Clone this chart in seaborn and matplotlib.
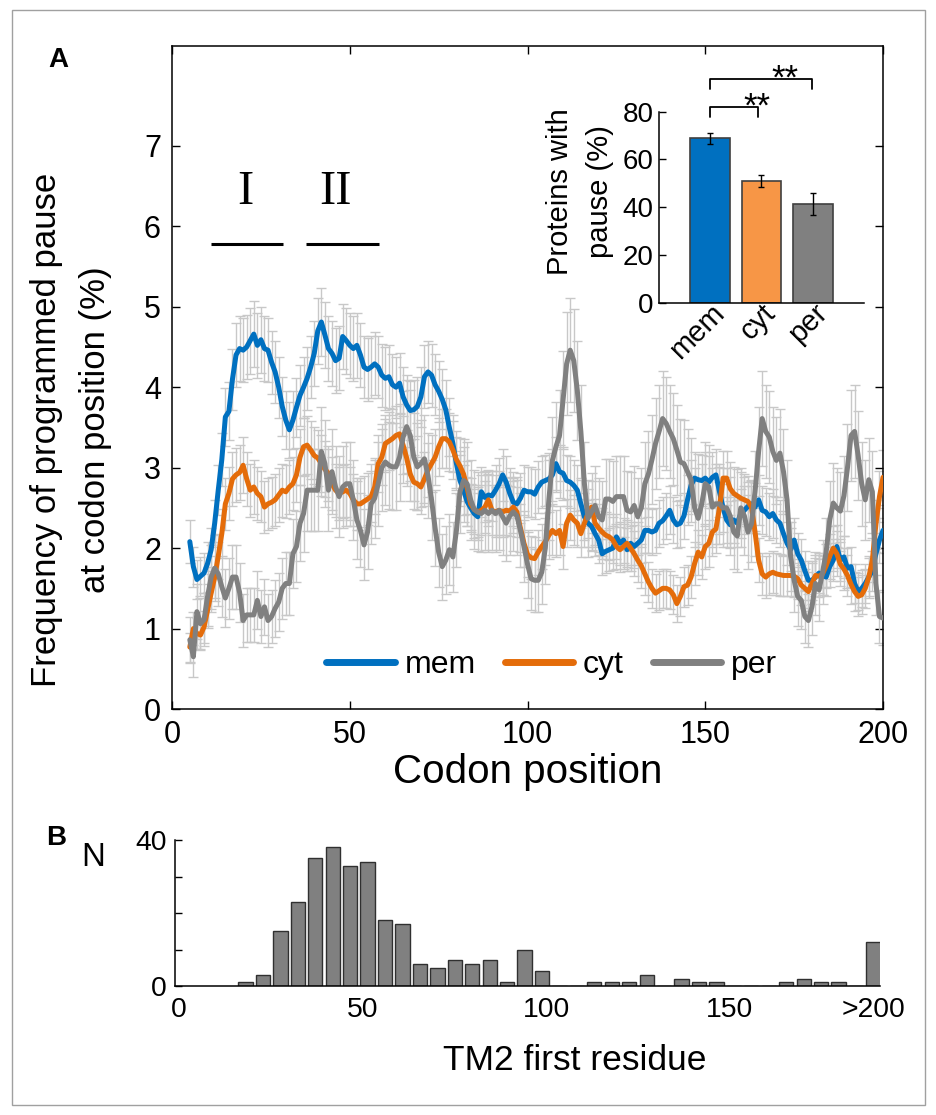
import numpy as np
import pandas as pd
import matplotlib
matplotlib.use("Agg")
import matplotlib.pyplot as plt
from matplotlib import font_manager
import seaborn as sns
from matplotlib.patches import Rectangle

# ---------------- data ----------------
codon = list(range(5, 201))

mem = [2.08, 1.77, 1.61, 1.65, 1.69, 1.81, 1.98, 2.31, 2.72, 3.10,
       3.63, 3.70, 4.10, 4.40, 4.48, 4.46, 4.50, 4.58, 4.66, 4.52,
       4.59, 4.48, 4.46, 4.31, 4.19, 4.00, 3.76, 3.59, 3.47, 3.59,
       3.75, 3.90, 4.00, 4.11, 4.25, 4.42, 4.70, 4.81, 4.65, 4.48,
       4.42, 4.33, 4.36, 4.63, 4.58, 4.52, 4.48, 4.52, 4.40, 4.25,
       4.22, 4.25, 4.29, 4.25, 4.15, 4.11, 4.13, 4.03, 4.00, 4.05,
       3.88, 3.78, 3.71, 3.72, 3.76, 3.88, 4.13, 4.19, 4.15, 4.03,
       3.95, 3.85, 3.72, 3.50, 3.30, 3.05, 2.84, 2.72, 2.58, 2.50,
       2.43, 2.39, 2.70, 2.63, 2.66, 2.65, 2.72, 2.80, 2.91, 2.82,
       2.68, 2.57, 2.55, 2.62, 2.72, 2.70, 2.70, 2.67, 2.76, 2.82,
       2.84, 2.86, 2.91, 3.05, 2.95, 2.93, 2.84, 2.82, 2.78, 2.72,
       2.55, 2.39, 2.31, 2.27, 2.18, 2.10, 1.93, 1.96, 1.98, 2.00,
       2.14, 2.06, 2.10, 1.98, 2.06, 2.02, 2.06, 2.10, 2.22, 2.22,
       2.20, 2.22, 2.31, 2.34, 2.40, 2.47, 2.35, 2.29, 2.31, 2.40,
       2.60, 2.78, 2.87, 2.85, 2.84, 2.87, 2.82, 2.88, 2.91, 2.70,
       2.50, 2.35, 2.29, 2.35, 2.31, 2.43, 2.47, 2.52, 2.55, 2.51,
       2.60, 2.47, 2.45, 2.39, 2.43, 2.35, 2.31, 2.18, 2.06, 1.98,
       2.10, 1.93, 1.85, 1.72, 1.60, 1.60, 1.64, 1.69, 1.66, 1.64,
       1.77, 1.85, 2.02, 1.85, 1.89, 1.75, 1.77, 1.56, 1.46, 1.50,
       1.56, 1.64, 1.72, 1.93, 2.10, 2.22]

mem_err = [0.27, 0.25, 0.24, 0.24, 0.25, 0.26, 0.27, 0.29, 0.31, 0.33,
           0.36, 0.36, 0.38, 0.40, 0.40, 0.40, 0.40, 0.41, 0.41, 0.40,
           0.41, 0.40, 0.40, 0.39, 0.39, 0.38, 0.37, 0.36, 0.35, 0.36,
           0.37, 0.38, 0.38, 0.39, 0.39, 0.40, 0.41, 0.42, 0.41, 0.40,
           0.40, 0.40, 0.40, 0.41, 0.41, 0.40, 0.40, 0.40, 0.40, 0.39,
           0.39, 0.39, 0.39, 0.39, 0.39, 0.39, 0.39, 0.38, 0.38, 0.38,
           0.37, 0.37, 0.37, 0.37, 0.37, 0.37, 0.39, 0.39, 0.39, 0.38,
           0.38, 0.37, 0.37, 0.36, 0.35, 0.33, 0.32, 0.31, 0.31, 0.30,
           0.30, 0.29, 0.31, 0.31, 0.31, 0.31, 0.31, 0.32, 0.32, 0.32,
           0.31, 0.30, 0.30, 0.31, 0.31, 0.31, 0.31, 0.31, 0.32, 0.32,
           0.32, 0.32, 0.32, 0.33, 0.33, 0.33, 0.32, 0.32, 0.32, 0.31,
           0.30, 0.29, 0.29, 0.29, 0.28, 0.28, 0.26, 0.27, 0.27, 0.27,
           0.28, 0.27, 0.28, 0.27, 0.27, 0.27, 0.27, 0.28, 0.28, 0.28,
           0.28, 0.28, 0.29, 0.29, 0.29, 0.30, 0.29, 0.29, 0.29, 0.29,
           0.31, 0.32, 0.32, 0.32, 0.32, 0.32, 0.32, 0.32, 0.32, 0.31,
           0.30, 0.29, 0.29, 0.29, 0.29, 0.30, 0.30, 0.30, 0.30, 0.30,
           0.31, 0.30, 0.30, 0.29, 0.30, 0.29, 0.29, 0.28, 0.27, 0.27,
           0.28, 0.26, 0.26, 0.25, 0.24, 0.24, 0.24, 0.25, 0.24, 0.24,
           0.25, 0.26, 0.27, 0.26, 0.26, 0.25, 0.25, 0.24, 0.23, 0.23,
           0.24, 0.24, 0.25, 0.26, 0.28, 0.28]

cyt = [0.77, 1.00, 0.94, 0.92, 1.02, 1.23, 1.44, 1.64, 1.90, 2.18,
       2.55, 2.68, 2.86, 2.91, 2.94, 3.03, 2.86, 2.72, 2.76, 2.68,
       2.64, 2.51, 2.55, 2.57, 2.60, 2.66, 2.72, 2.70, 2.76, 2.80,
       2.91, 3.13, 3.26, 3.28, 3.22, 3.15, 3.12, 3.05, 2.98, 2.93,
       2.80, 2.72, 2.68, 2.70, 2.72, 2.68, 2.60, 2.55, 2.55, 2.58,
       2.61, 2.64, 2.76, 3.05, 3.13, 3.30, 3.33, 3.36, 3.40, 3.42,
       3.28, 3.12, 2.92, 2.82, 2.80, 2.76, 2.86, 2.97, 3.05, 3.13,
       3.26, 3.36, 3.36, 3.32, 3.22, 3.10, 3.02, 2.92, 2.75, 2.55,
       2.48, 2.45, 2.47, 2.51, 2.60, 2.47, 2.45, 2.47, 2.45, 2.47,
       2.46, 2.51, 2.45, 2.25, 2.06, 1.92, 1.88, 1.87, 1.95, 2.02,
       2.08, 2.16, 2.22, 2.18, 2.22, 2.02, 2.31, 2.41, 2.35, 2.31,
       2.18, 2.31, 2.43, 2.51, 2.31, 2.25, 2.20, 2.16, 2.14, 2.10,
       2.02, 1.98, 2.02, 2.06, 2.00, 1.93, 1.85, 1.78, 1.68, 1.58,
       1.50, 1.44, 1.47, 1.50, 1.50, 1.48, 1.42, 1.31, 1.40, 1.52,
       1.54, 1.64, 1.81, 1.95, 1.89, 2.02, 2.06, 2.20, 2.24, 2.50,
       2.87, 2.87, 2.74, 2.68, 2.65, 2.62, 2.60, 2.58, 2.51, 2.20,
       1.85, 1.68, 1.64, 1.68, 1.70, 1.68, 1.67, 1.66, 1.66, 1.66,
       1.65, 1.62, 1.54, 1.50, 1.46, 1.56, 1.66, 1.65, 1.68, 1.78,
       1.90, 2.00, 1.93, 1.80, 1.74, 1.66, 1.55, 1.46, 1.40, 1.42,
       1.50, 1.64, 1.85, 2.30, 2.64, 2.88]

cyt_err = [0.18, 0.20, 0.19, 0.19, 0.20, 0.22, 0.24, 0.26, 0.28, 0.30,
           0.32, 0.33, 0.34, 0.34, 0.34, 0.35, 0.34, 0.33, 0.33, 0.33,
           0.32, 0.32, 0.32, 0.32, 0.32, 0.33, 0.33, 0.33, 0.33, 0.33,
           0.34, 0.35, 0.36, 0.36, 0.36, 0.35, 0.35, 0.35, 0.35, 0.34,
           0.33, 0.33, 0.33, 0.33, 0.33, 0.33, 0.32, 0.32, 0.32, 0.32,
           0.32, 0.32, 0.33, 0.35, 0.35, 0.36, 0.36, 0.37, 0.37, 0.37,
           0.36, 0.35, 0.34, 0.34, 0.33, 0.33, 0.34, 0.34, 0.35, 0.35,
           0.36, 0.37, 0.37, 0.36, 0.36, 0.35, 0.35, 0.34, 0.33, 0.32,
           0.31, 0.31, 0.31, 0.32, 0.32, 0.31, 0.31, 0.31, 0.31, 0.31,
           0.31, 0.32, 0.31, 0.30, 0.29, 0.28, 0.27, 0.27, 0.28, 0.28,
           0.29, 0.29, 0.30, 0.29, 0.30, 0.28, 0.30, 0.31, 0.31, 0.30,
           0.29, 0.30, 0.31, 0.32, 0.30, 0.30, 0.30, 0.29, 0.29, 0.29,
           0.28, 0.28, 0.28, 0.29, 0.28, 0.28, 0.27, 0.27, 0.26, 0.25,
           0.24, 0.24, 0.24, 0.24, 0.24, 0.24, 0.24, 0.23, 0.24, 0.25,
           0.25, 0.26, 0.27, 0.28, 0.27, 0.28, 0.29, 0.30, 0.30, 0.32,
           0.34, 0.34, 0.33, 0.33, 0.33, 0.32, 0.32, 0.32, 0.32, 0.30,
           0.27, 0.26, 0.26, 0.26, 0.26, 0.26, 0.26, 0.26, 0.26, 0.26,
           0.26, 0.25, 0.25, 0.24, 0.24, 0.25, 0.26, 0.26, 0.26, 0.27,
           0.28, 0.28, 0.28, 0.27, 0.26, 0.26, 0.25, 0.24, 0.24, 0.24,
           0.24, 0.26, 0.27, 0.30, 0.32, 0.34]

per = [0.86, 0.65, 1.21, 1.06, 1.11, 1.40, 1.64, 1.75, 1.68, 1.52,
       1.38, 1.50, 1.64, 1.64, 1.45, 1.10, 1.17, 1.17, 1.17, 1.35,
       1.15, 1.27, 1.10, 1.15, 1.25, 1.33, 1.50, 1.56, 1.56, 1.93,
       2.02, 2.31, 2.43, 2.72, 2.72, 2.72, 2.72, 3.20, 3.05, 2.72,
       2.95, 2.76, 2.64, 2.76, 2.80, 2.80, 2.60, 2.35, 2.22, 2.04,
       2.20, 2.55, 2.62, 2.80, 3.00, 3.07, 3.03, 3.01, 3.01, 3.13,
       3.38, 3.51, 3.40, 3.13, 3.01, 3.05, 3.11, 2.90, 2.60, 2.25,
       1.95, 1.77, 1.85, 1.98, 1.89, 2.22, 2.70, 2.84, 2.80, 2.60,
       2.48, 2.45, 2.43, 2.47, 2.43, 2.47, 2.43, 2.47, 2.39, 2.31,
       2.40, 2.45, 2.40, 2.22, 2.02, 1.80, 1.62, 1.60, 1.60, 1.70,
       2.00, 2.60, 3.09, 3.26, 3.40, 3.84, 4.29, 4.46, 4.33, 3.96,
       3.45, 2.80, 2.37, 2.45, 2.53, 2.39, 2.35, 2.61, 2.61, 2.58,
       2.64, 2.64, 2.64, 2.47, 2.45, 2.53, 2.39, 2.50, 2.80, 2.92,
       3.10, 3.30, 3.45, 3.61, 3.55, 3.45, 3.36, 3.22, 3.07, 3.05,
       2.95, 2.85, 2.50, 2.37, 2.55, 2.80, 2.76, 2.51, 2.55, 2.55,
       2.50, 2.50, 2.40, 2.20, 2.15, 2.50, 2.40, 2.20, 2.30, 2.70,
       3.20, 3.61, 3.45, 3.38, 3.20, 3.09, 3.18, 2.95, 2.60, 1.90,
       1.60, 1.40, 1.35, 1.15, 1.10, 1.27, 1.56, 1.48, 1.70, 1.95,
       2.35, 2.56, 2.50, 2.46, 2.65, 3.00, 3.40, 3.45, 3.15, 2.80,
       2.60, 2.85, 2.70, 1.56, 1.15, 1.13]

per_err = [0.29, 0.25, 0.34, 0.32, 0.33, 0.37, 0.40, 0.41, 0.40, 0.38,
           0.36, 0.38, 0.40, 0.40, 0.37, 0.33, 0.34, 0.34, 0.34, 0.36,
           0.33, 0.35, 0.33, 0.33, 0.35, 0.36, 0.38, 0.39, 0.39, 0.43,
           0.44, 0.47, 0.48, 0.51, 0.51, 0.51, 0.51, 0.55, 0.54, 0.51,
           0.53, 0.51, 0.50, 0.51, 0.52, 0.52, 0.50, 0.48, 0.46, 0.44,
           0.46, 0.50, 0.50, 0.52, 0.54, 0.54, 0.54, 0.54, 0.54, 0.55,
           0.57, 0.58, 0.57, 0.55, 0.54, 0.54, 0.55, 0.53, 0.50, 0.47,
           0.43, 0.41, 0.42, 0.44, 0.43, 0.46, 0.51, 0.52, 0.52, 0.50,
           0.49, 0.49, 0.48, 0.49, 0.48, 0.49, 0.48, 0.49, 0.48, 0.47,
           0.48, 0.49, 0.48, 0.46, 0.44, 0.42, 0.39, 0.39, 0.39, 0.40,
           0.44, 0.50, 0.54, 0.56, 0.57, 0.61, 0.64, 0.65, 0.64, 0.62,
           0.58, 0.52, 0.48, 0.48, 0.49, 0.48, 0.48, 0.50, 0.50, 0.50,
           0.50, 0.50, 0.50, 0.49, 0.49, 0.49, 0.48, 0.49, 0.52, 0.53,
           0.55, 0.56, 0.58, 0.59, 0.58, 0.58, 0.57, 0.56, 0.54, 0.54,
           0.53, 0.52, 0.49, 0.48, 0.50, 0.52, 0.52, 0.49, 0.50, 0.50,
           0.49, 0.49, 0.48, 0.46, 0.45, 0.49, 0.48, 0.46, 0.47, 0.51,
           0.55, 0.59, 0.58, 0.57, 0.55, 0.54, 0.55, 0.53, 0.50, 0.43,
           0.39, 0.37, 0.36, 0.33, 0.33, 0.35, 0.39, 0.38, 0.40, 0.43,
           0.48, 0.50, 0.49, 0.49, 0.50, 0.54, 0.57, 0.58, 0.55, 0.52,
           0.50, 0.52, 0.51, 0.39, 0.33, 0.33]

groups = ["mem", "cyt", "per"]
pause_pct = [68.8, 50.9, 41.4]
pause_err = [2.4, 2.4, 4.6]

tm2_counts = [1, 3, 15, 23, 35, 38, 33, 34, 18, 17,
              6, 5, 7, 6, 7, 1, 10, 4, 0, 0,
              1, 1, 1, 3, 0, 2, 1, 1, 0, 0,
              0, 1, 2, 1, 1, 0, 12]
tm2_tick_values = [0, 50, 100, 150]
tm2_tick_labels = ["0", "50", "100", "150", ">200"]

# ---------------- style ----------------
sns.set_style("white")
plt.rcParams['font.family'] = ['Liberation Sans', 'DejaVu Sans']
plt.rcParams['axes.edgecolor'] = 'black'
plt.rcParams['axes.linewidth'] = 1.1
for key in ['text.color', 'axes.labelcolor', 'xtick.color', 'ytick.color']:
    plt.rcParams[key] = 'black'

available = {f.name for f in font_manager.fontManager.ttflist}
if 'Liberation Sans Narrow' in available:
    narrow_family = ['Liberation Sans Narrow', 'Liberation Sans']
    narrow_scale = 1.0
else:
    narrow_family = ['Liberation Sans', 'DejaVu Sans']
    narrow_scale = 0.85

line_colors = {"mem": "#0070C0", "cyt": "#E46C0A", "per": "#808080"}
bar_colors = {"mem": "#0070C0", "cyt": "#F79646", "per": "#808080"}

fig = plt.figure(figsize=(9.37, 11.15), dpi=100)

# ---------------- panel A ----------------
ax = fig.add_axes([0.1836, 0.3641, 0.7588, 0.5946])
series = {"mem": (mem, mem_err), "cyt": (cyt, cyt_err), "per": (per, per_err)}
for name, (vals, errs) in series.items():
    ax.errorbar(codon, vals, yerr=errs, fmt='none', ecolor='#c8c8c8',
                elinewidth=1.0, capsize=3.5, capthick=1.0, zorder=1)

df = pd.concat([pd.DataFrame({"codon": codon, "freq": v, "set": n})
                for n, (v, e) in series.items()], ignore_index=True)
sns.lineplot(data=df, x="codon", y="freq", hue="set", hue_order=groups,
             palette=line_colors, linewidth=3.6, errorbar=None, ax=ax,
             zorder=3, legend=True)
handles, labels = ax.get_legend_handles_labels()
ax.legend(handles, labels, loc='lower center', bbox_to_anchor=(0.534, 0.0),
          ncol=3, frameon=False, fontsize=23, handlelength=2.15,
          columnspacing=0.9, handletextpad=0.3)
for lh in ax.get_legend().get_lines():
    lh.set_linewidth(5)

ax.set_xlim(0, 200)
ax.set_ylim(0, 8.24)
ax.set_xticks([0, 50, 100, 150, 200])
ax.set_yticks(range(0, 8))
ax.xaxis.set_ticks_position('both')
ax.yaxis.set_ticks_position('both')
ax.tick_params(direction='in', length=6, width=1, labelsize=22,
               colors='black', pad=8)
ax.set_xlabel("Codon position", fontsize=29, labelpad=2)
ax.set_ylabel("")
fig.text(71 / 937, 1 - 430 / 1115, "Frequency of programmed pause\nat codon position (%)",
         rotation=90, ha='center', va='center', fontsize=25,
         multialignment='center', linespacing=1.65)

# region annotations
ax.plot([11, 31.2], [5.78, 5.78], color='black', lw=2.2, solid_capstyle='butt')
ax.plot([37.7, 58.2], [5.78, 5.78], color='black', lw=2.2, solid_capstyle='butt')
ax.text(20.5, 6.42, "I", family=['Liberation Serif', 'DejaVu Serif'],
        fontsize=35, ha='center', va='center')
ax.text(46.0, 6.42, "II", family=['Liberation Serif', 'DejaVu Serif'],
        fontsize=35, ha='center', va='center')

# ---------------- inset ----------------
ins = fig.add_axes([0.7033, 0.7285, 0.2188, 0.1713])
sns.barplot(x=groups, y=pause_pct, hue=groups, palette=bar_colors,
            legend=False, width=0.78, edgecolor='#404040', linewidth=1.2,
            saturation=1, errorbar=None, ax=ins)
ins.errorbar(range(3), pause_pct, yerr=pause_err, fmt='none', ecolor='black',
             elinewidth=1, capsize=2.5, capthick=1)
ins.set_xlim(-1, 3)
ins.set_ylim(0, 80)
ins.set_yticks([0, 20, 40, 60, 80])
ins.spines['top'].set_visible(False)
ins.spines['right'].set_visible(False)
ins.tick_params(axis='y', direction='in', length=5, width=1, labelsize=20,
                left=True, pad=4)
ins.tick_params(axis='x', length=0, labelsize=21, pad=-3)
for lbl in ins.get_xticklabels():
    lbl.set_rotation(45)
    lbl.set_ha('right')
    lbl.set_va('top')
    lbl.set_rotation_mode('anchor')
ins.set_ylabel("")
ins.set_xlabel("")
fig.text(580 / 937, 1 - 192 / 1115, "Proteins with\npause (%)", rotation=90,
         ha='center', va='center', fontsize=21, multialignment='center',
         linespacing=1.55)
# significance brackets
ins.plot([0, 0, 0.93, 0.93], [77.8, 81.8, 81.8, 77.8], color='black', lw=1.3,
         clip_on=False)
ins.plot([0, 0, 1.98, 1.98], [89.7, 93.9, 93.9, 89.7], color='black', lw=1.3,
         clip_on=False)
ins.text(0.91, 82.0, "**", fontsize=25, ha='center', va='center')
ins.text(1.46, 93.6, "**", fontsize=25, ha='center', va='center')

# ---------------- panel B ----------------
axb = fig.add_axes([0.1868, 0.1157, 0.7524, 0.1309])
tm2_centers = np.linspace(18.1, 189.2, len(tm2_counts))
sns.barplot(x=tm2_centers, y=tm2_counts, native_scale=True, color='#808080',
            edgecolor='#303030', linewidth=1.0, width=0.82, saturation=1,
            errorbar=None, ax=axb)
axb.set_xlim(-1.1, 191)
axb.set_ylim(0, 40)
axb.set_yticks([0, 10, 20, 30, 40])
axb.set_yticklabels(["0", "", "", "", "40"])
axb.set_xticks(tm2_tick_values + [tm2_centers[-1]])
axb.set_xticklabels(tm2_tick_labels)
axb.spines['top'].set_visible(False)
axb.spines['right'].set_visible(False)
axb.tick_params(axis='y', direction='in', length=5, width=1,
                labelsize=24 * narrow_scale, left=True, pad=6)
axb.tick_params(axis='x', length=0, labelsize=24 * narrow_scale, pad=8)
for lbl in axb.get_xticklabels() + axb.get_yticklabels():
    lbl.set_family(narrow_family)
axb.set_xlabel("")
axb.set_ylabel("")
fig.text(575 / 937, 1 - 1060 / 1115, "TM2 first residue", family=narrow_family,
         fontsize=30 * narrow_scale, ha='center', va='center')
fig.text(93 / 937, 1 - 858 / 1115, "N", family=narrow_family,
         fontsize=28 * narrow_scale, ha='center', va='center')

# panel letters
fig.text(58 / 937, 1 - 60 / 1115, "A", fontsize=20, fontweight='bold',
         ha='center', va='center')
fig.text(56 / 937, 1 - 838 / 1115, "B", fontsize=20, fontweight='bold',
         ha='center', va='center')

# figure frame
fig.patches.append(Rectangle((12 / 937, 10 / 1115), 913 / 937, 1095 / 1115,
                             transform=fig.transFigure, fill=False,
                             edgecolor='#a0a0a0', lw=1.0))

fig.savefig("out.png", dpi=100)
